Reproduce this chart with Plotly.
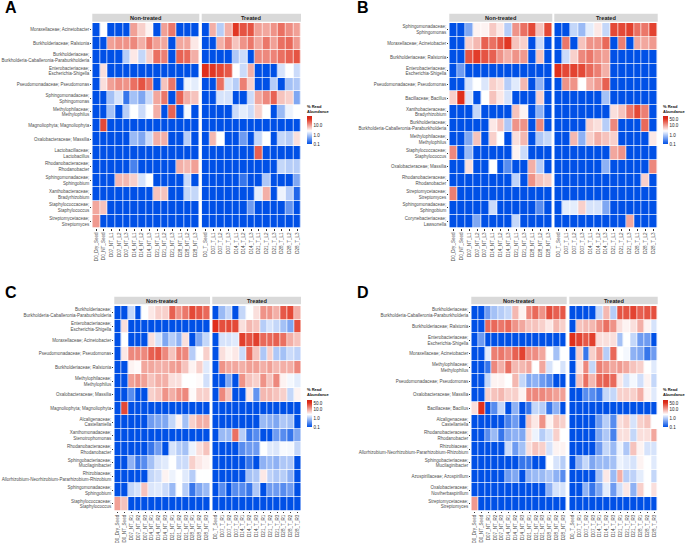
import math
import plotly.graph_objects as go

WIDTH, HEIGHT = 685, 543

nt_L = ["D0_Dry_Seed","D0_NT_Seed","D07_NT_L1","D07_NT_L2","D07_NT_L3","D14_NT_L1","D14_NT_L2","D14_NT_L3","D21_NT_L1","D21_NT_L2","D21_NT_L3","D28_NT_L1","D28_NT_L2","D28_NT_L3"]
nt_L_b = ["D0_Dry_Seed","D0_NT_Seed","D07_NT_L1","D07_NT_L2","D07_NT_L3","D14_NT_L1","D14_NT_L2","D14_NT_L3","D21_NT_L1","D21_NT_L3","D28_NT_L1","D28_NT_L2","D28_NT_L3"]
t_L = ["D0_T_Seed","D07_T_L1","D07_T_L2","D07_T_L3","D14_T_L1","D14_T_L2","D14_T_L3","D21_T_L1","D21_T_L2","D21_T_L3","D28_T_L1","D28_T_L2","D28_T_L3"]
nt_R = ["D0_Dry_Seed","D0_NT_Seed","D07_NT_R1","D07_NT_R2","D07_NT_R3","D14_NT_R1","D14_NT_R2","D14_NT_R3","D21_NT_R1","D21_NT_R2","D21_NT_R3","D28_NT_R1","D28_NT_R2","D28_NT_R3"]
t_R = ["D0_T_Seed","D07_T_R1","D07_T_R2","D07_T_R3","D14_T_R1","D14_T_R2","D14_T_R3","D21_T_R1","D21_T_R2","D21_T_R3","D28_T_R1","D28_T_R2","D28_T_R3"]

taxa_a = ["Moraxellaceae; Acinetobacter","Burkholderiaceae; Ralstonia","Burkholderiaceae;<br>Burkholderia-Caballeronia-Paraburkholderia","Enterobacteriaceae;<br>Escherichia-Shigella","Pseudomonadaceae; Pseudomonas","Sphingomonadaceae;<br>Sphingomonas","Methylophilaceae;<br>Methylophilus","Magnoliophyta; Magnoliophyta","Oxalobacteraceae; Massilia","Lactobacillaceae;<br>Lactobacillus","Rhodanobacteraceae;<br>Rhodanobacter","Sphingomonadaceae;<br>Sphingobium","Xanthobacteraceae;<br>Bradyrhizobium","Staphylococcaceae;<br>Staphylococcus","Streptomycetaceae;<br>Streptomyces"]
taxa_b = ["Sphingomonadaceae;<br>Sphingomonas","Moraxellaceae; Acinetobacter","Burkholderiaceae; Ralstonia","Enterobacteriaceae;<br>Escherichia-Shigella","Pseudomonadaceae; Pseudomonas","Bacillaceae; Bacillus","Xanthobacteraceae;<br>Bradyrhizobium","Burkholderiaceae;<br>Burkholderia-Caballeronia-Paraburkholderia","Methylophilaceae;<br>Methylophilus","Staphylococcaceae;<br>Staphylococcus","Oxalobacteraceae; Massilia","Rhodanobacteraceae;<br>Rhodanobacter","Streptomycetaceae;<br>Streptomyces","Sphingomonadaceae;<br>Sphingobium","Corynebacteriaceae;<br>Lawsonella"]
taxa_c = ["Burkholderiaceae;<br>Burkholderia-Caballeronia-Paraburkholderia","Enterobacteriaceae;<br>Escherichia-Shigella","Moraxellaceae; Acinetobacter","Pseudomonadaceae; Pseudomonas","Burkholderiaceae; Ralstonia","Methylophilaceae;<br>Methylophilus","Oxalobacteraceae; Massilia","Magnoliophyta; Magnoliophyta","Alcaligenaceae;<br>Castellaniella","Xanthomonadaceae;<br>Stenotrophomonas","Rhodanobacteraceae;<br>Rhodanobacter","Sphingobacteriaceae;<br>Mucilaginibacter","Rhizobiaceae;<br>Allorhizobium-Neorhizobium-Pararhizobium-Rhizobium","Sphingomonadaceae;<br>Sphingobium","Staphylococcaceae;<br>Staphylococcus"]
taxa_d = ["Burkholderiaceae;<br>Burkholderia-Caballeronia-Paraburkholderia","Burkholderiaceae; Ralstonia","Enterobacteriaceae;<br>Escherichia-Shigella","Moraxellaceae; Acinetobacter","Methylophilaceae;<br>Methylophilus","Pseudomonadaceae; Pseudomonas","Oxalobacteraceae; Massilia","Bacillaceae; Bacillus","Alcaligenaceae;<br>Castellaniella","Rhodanobacteraceae;<br>Rhodanobacter","Rhizobiaceae;<br>Allorhizobium-Neorhizobium-Pararhizobium-Rhizobium","Sphingobacteriaceae;<br>Mucilaginibacter","Azospirillaceae; Azospirillum","Oxalobacteraceae;<br>Noviherbaspirillum","Streptomycetaceae;<br>Streptomyces"]

a_nt = [
[.1,2.5,.1,.1,.1,10,5,3,.1,10,18,.1,.1,.1],
[.1,.1,10,12,12,14,8,18,10,9,.1,9,9,3.5],
[.1,.1,.1,.1,1,3.5,1.2,5,20,16,.1,24,22,8],
[.1,4,.1,.1,.1,.1,.1,.1,.1,.1,.1,.1,.1,.1],
[.1,4,10,13,12,20,30,18,.1,6,18,.1,2,1.8],
[.1,.1,.8,1.5,.2,.8,.5,1.3,9,18,.1,24,8,6],
[.1,.1,.8,.1,1,2.5,1.3,2.5,8,.1,24,.1,2.2,.1],
[.1,35,.1,.1,.1,.1,.1,.1,.1,.1,.1,.1,.1,.1],
[.1,.1,.1,.1,.1,.7,.5,1.3,8,8,.1,.1,1,.1],
[.1,.1,.1,.1,.1,.1,.1,.1,.1,.1,.1,.1,.1,.1],
[.1,.1,.1,.1,.1,.25,.1,.1,.1,.1,.1,8,7,10],
[.1,.1,.1,7,7,5,1.5,2.5,.1,.1,.1,.1,1.3,.1],
[.1,.1,.1,.1,.1,.1,.1,.1,6,6,.1,.1,1.2,1.2],
[9,6,.1,.1,.1,.1,.1,.1,.1,.1,.1,.1,.1,.1],
[11,.1,.1,.1,.1,.1,.1,.1,.1,.1,.1,.1,.1,.1],
]
a_t = [
[.1,8,1,8,45,30,30,10,9,12,20,13,10],
[.1,.1,8,15,6,12,18,9,18,10,20,22,11],
[.1,.1,.1,.1,.9,1.3,.1,14,14,15,20,24,30],
[50,45,35,28,2.5,1.3,8,.1,.1,.1,1.5,2.5,1.3],
[.1,.1,20,1.5,1,16,5,.1,.1,1,.1,.8,.9],
[.1,.1,1.5,1.5,.1,.1,1.3,9,14,24,6,5,.5],
[.1,.1,.1,.1,1.3,1.8,1.3,5,2.5,.1,.7,2,2.5],
[.1,.1,.1,.1,.1,.1,.1,.1,.1,.1,.1,.1,.1],
[.1,7,2.5,.1,.1,.4,.1,1.2,2.5,.1,1.2,1,4],
[.1,.1,.1,.1,.1,.1,.1,25,.1,.1,.1,.1,.1],
[.1,.1,.1,.1,.1,.1,.1,.1,.1,.1,1.2,1,1],
[.1,.1,.1,.1,.1,.2,.1,.1,.9,.1,.1,.1,.5],
[.1,.1,.1,.1,.1,.1,.1,1.8,8,.1,2,1,.15],
[.1,.1,.1,.1,.1,.1,.4,.1,.1,.1,.1,.35,.1],
[.1,.1,.1,.1,.1,.1,.1,.1,.1,.1,.1,.1,.1],
]
b_nt = [
[.1,.1,.5,3,3,5.5,3.5,1,12,20,35,6,35],
[.1,.1,5,7,25,20,30,45,6,5,.1,1.3,.1],
[.1,.1,30,42,30,25,12,8,12,11,.1,6,.1],
[.1,.4,.1,.1,.1,.1,.1,.1,.1,.1,.1,.1,.1],
[.1,.1,1.5,2.5,1.6,5,4,1,1.7,7,.1,.6,.1],
[5,50,1.6,.1,2.5,6,3.5,1.5,.1,.1,.1,5,.1],
[.1,.1,.1,1.2,.1,.1,.1,.1,6,3,.1,.6,.1],
[.1,.1,.1,.1,.1,3.5,6,.9,12,12,.1,14,.1],
[.1,.1,.5,6,.1,5,2.5,.1,4,7,.1,.9,1.2],
[14,.1,.7,.1,.1,.1,.1,.1,3,1.3,.1,.1,.1],
[.1,.1,4,.1,.1,2.5,.1,.3,.1,.1,8,1,.1],
[.1,.1,.1,.1,.1,.1,.1,.1,1.1,.1,12,6,5],
[16,.1,.1,.1,.1,.1,.1,.1,.1,.1,.1,.1,.1],
[.1,.1,.1,.1,.1,1.3,.1,.1,.1,.1,.1,.3,.1],
[.1,.1,.1,.5,.1,.1,.1,.1,1.2,.1,.1,.1,.1],
]
b_t = [
[.1,.1,1.2,.7,1.8,3.5,1.2,35,35,40,20,18,38],
[.1,18,.1,6,12,12,22,.1,16,.1,9,9,11],
[.1,1.3,5,14,18,12,10,.1,.1,.1,.1,.1,.1],
[50,35,38,35,22,16,8,.1,.1,.1,.1,.1,.1],
[.1,12,12,2.5,8,11,25,.1,.1,.1,.1,.1,.1],
[.1,.1,.1,.1,.1,.1,.8,.1,.1,.1,.1,.1,.1],
[.1,.1,.1,.1,.1,.1,.1,4,6,18,35,16,.1],
[.1,.1,.1,.1,5,4,1,14,.1,.1,.1,22,.1],
[.1,.1,7,.6,5,8,6,5,.1,.1,.1,.1,3.5],
[.1,.1,.1,.1,.1,.1,.1,9,12,.1,.1,.1,.1],
[.1,.1,.1,.1,.1,.1,.6,.1,.1,.1,.1,.1,14],
[.1,.1,.1,.1,.1,.1,.1,.1,.1,.1,.1,5,.1],
[.1,.1,.1,.1,.1,.1,.1,.1,.1,.1,.1,.1,.1],
[.1,1.8,1.8,5,1.5,1.5,.5,.1,.1,.1,.1,.1,.1],
[.1,.1,.1,.1,.1,.1,.1,.1,.1,9,.1,.1,.1],
]
c_nt = [
[.1,.1,1.2,.1,2.5,3.5,5,5,25,12,18,35,28,22],
[.1,4,.1,.1,.1,.1,.1,.1,.1,.1,.1,.1,.1,.1],
[.1,2.5,.1,.1,.1,4,1.5,.5,1,.6,4,.1,.5,1.2],
[.1,3.5,14,14,14,25,28,14,6,16,14,1,2.5,5],
[.1,.1,3,2.7,9,9,8,8,10,11,6,3,5,1.7],
[.1,.1,10,12,10,6,8,8,4,4,2.5,2.5,2.7,1.4],
[.1,.1,.3,.1,.1,5,6,12,8,12,14,2.7,5,5],
[.1,35,.1,.1,.1,.1,.1,.1,.1,.1,.1,.1,.1,.1],
[.1,.1,.1,.1,.1,.4,.5,.5,1.2,3,.8,5,8,8],
[.1,.1,.1,.1,.1,.1,.1,.1,.1,.1,.1,.1,.1,.1],
[.1,.1,.1,.1,.1,.2,.4,.1,1.5,1,.8,2,4,6],
[.1,.1,.6,.2,.3,.8,1.5,1.7,2.5,1.3,1.3,5,3.5,3],
[.1,.1,.1,.1,.1,1.2,1.4,3,2,2.5,1.7,1,2.5,2.5],
[.1,.1,1.2,1.5,6,1.6,1.7,1.3,.7,2.5,1,.2,.5,.7],
[10,6,.1,.1,.1,.1,.1,.1,.1,.1,.1,.1,.1,.1],
]
c_t = [
[.1,.7,1.2,.1,1.2,2.5,4,12,12,8,28,35,8],
[50,32,35,35,4,7,6,1,1.5,1.2,.8,.5,32],
[.1,1.5,1.5,1.7,40,30,40,22,22,25,20,8,6],
[.1,4,3,3.5,1.3,22,6,.9,5,.9,.8,1.3,1.1],
[.1,12,9,9,8,10,10,8,10,7,8,8,14],
[.1,.1,.5,.1,12,6,5,12,6,14,3,2.2,1.8],
[.1,14,6,.1,.1,3.5,.35,7,7,6,5,1.2,3],
[.1,.1,.1,.1,.1,.1,.1,.1,.1,.1,.1,.1,.1],
[.1,.1,.1,.1,.1,.1,.1,.7,.6,.5,.9,.8,.1],
[.1,.7,.7,20,1,.2,.3,.1,.1,.4,.3,.2,.5],
[.1,.1,.1,.1,.3,.4,.4,2.5,1.7,1.6,2.3,2.2,1.2],
[.1,.1,.1,.1,.1,.2,.1,.6,.7,.6,.9,.9,.1],
[.1,.1,.1,.1,.1,.8,.9,3.5,1.1,.9,1,.6,.1],
[.1,.3,.1,.3,.3,.2,.9,.1,.4,.4,.3,.4,.1],
[.1,.1,.1,.1,.1,.1,.1,.1,.1,.1,.1,.1,.1],
]
d_nt = [
[.1,.1,.4,.8,1,1.2,7,3,14,22,12,33,25,28],
[.1,.1,22,22,18,22,12,9,6,6,5,3.5,7,5],
[.1,.4,.1,.1,.1,.1,.1,.1,.1,.1,.1,.1,.1,.1],
[.1,.1,1.8,16,18,14,25,38,13,13,9,2.5,.8,2.5],
[.1,.1,.2,14,8,20,7,7,9,2.5,9,1.5,2.5,1.5],
[.1,.1,1.2,3,3,2.5,7,1.2,.5,.6,.4,.3,.1,.1],
[.1,.1,5,6,7,5,5,3,14,14,14,12,10,10],
[4,50,.1,.3,1.2,.1,.6,.1,.2,1.2,1,.2,.6,.1],
[.1,.1,.1,.1,.1,.25,.4,.1,6,3.5,12,3,6,5],
[.1,.1,.3,.7,.2,.5,.6,.5,4,2,1,1.5,5,2.5],
[.1,.1,.1,.1,.1,1.3,.4,.8,4,6,5,1.5,3,3],
[.1,.1,.1,.1,.1,.1,.1,.2,.2,.1,.1,2.5,1.5,1],
[.1,.1,.1,.1,.1,.4,.5,.1,.6,.7,.7,.9,.6,.3],
[.1,.1,.1,.1,.1,.1,.1,.1,.1,.1,.1,.6,1.5,1.5],
[11,.1,.1,.1,.1,.1,.1,.1,.1,.1,.1,.1,.1,.1],
]
d_t = [
[.1,.1,.1,.1,1.2,7,1,30,30,38,25,30,32],
[.1,6,7,7,12,20,12,4,3,4,8,3,1.5],
[50,38,28,40,4,4,4,.8,2.5,1.2,.4,.4,.1],
[.1,5,.2,5,11,1,22,2.5,2.2,.6,.5,.2,.4],
[.1,3.5,14,1.2,16,12,9,11,9,6,5,2.5,1.7],
[.1,6,20,7,22,25,22,3.5,1.5,2.2,1.4,3,1.2],
[.1,.1,.3,.3,.2,1.2,1.2,5,5,5,8,3,1.7],
[.1,.1,.1,.1,.1,.1,.1,.1,.1,.1,.1,.1,.1],
[.1,.1,.1,.1,.4,1,.3,4,5,1.5,5,6,2.5],
[.1,.1,.1,.1,.5,.9,.25,4,4,1.2,4,4,9],
[.1,.1,.1,.1,.4,1.2,.7,2,.9,6,3,1.5,1.5],
[.1,.6,1.2,.5,.7,.7,.8,2,1.7,1.5,3,2.5,1.7],
[.1,.1,.1,.1,.8,3.5,.7,8,1,1.1,1.8,2.5,1.2],
[.1,.1,.6,.2,.5,1.8,.4,1.4,3.5,.6,5,2.5,4],
[.1,.1,.1,.1,.1,.1,.1,.1,.1,.1,.1,.1,.1],
]

strip_labels = ["Non-treated", "Treated"]
legend_ticks = [[0.1, 1.0, 10.0], [0.1, 1.0, 10.0, 50.0], [0.1, 1.0, 10.0, 50.0], [0.1, 1.0, 10.0, 50.0]]

panels = [
 ("A", 10.5, 8, taxa_a, nt_L, t_L, a_nt, a_t, (92.3, 199.3), (201.7, 301), (13.7, 21.7), (23, 228.3), 306.7, (116.7, 144.3)),
 ("B", 363, 8, taxa_b, nt_L_b, t_L, b_nt, b_t, (449.3, 552.3), (554.3, 657.7), (13.7, 21.7), (23, 228.3), 663.3, (116.7, 144.3)),
 ("C", 10.5, 292.5, taxa_c, nt_R, t_R, c_nt, c_t, (114.3, 210), (212.3, 301), (296.7, 304.3), (306, 510.7), 306.7, (400, 427.3)),
 ("D", 363, 292.5, taxa_d, nt_R, t_R, d_nt, d_t, (471.3, 566.7), (569.3, 657.7), (296.7, 304.3), (306, 510.7), 663.3, (400, 427.3)),
]

colorscale = [[0, "#0050E6"], [0.467, "#FFFFFF"], [0.9, "#E0301C"], [1, "#D02418"]]
FONT = "Liberation Sans"

fig = go.Figure()
layout = dict(
    width=WIDTH, height=HEIGHT, margin=dict(l=0, r=0, t=0, b=0), autosize=False,
    paper_bgcolor="white", plot_bgcolor="white", font=dict(family=FONT, color="#4D4D4D"),
)
shapes, annots = [], []
ax = 1

def fy(y):
    return 1 - y / HEIGHT

for i, (letter, lx, ly, rows, xn, xt, zn, zt, pn, pt, strip, heat, leg_x, leg_y) in enumerate(panels):
    cname = "coloraxis" if i == 0 else f"coloraxis{i+1}"
    ticks = legend_ticks[i]
    layout[cname] = dict(
        cmin=-1, cmax=2, colorscale=colorscale,
        colorbar=dict(
            x=leg_x / WIDTH, xanchor="left", xpad=0, ypad=0,
            y=fy(leg_y[1]), yanchor="bottom", lenmode="pixels", len=leg_y[1] - leg_y[0],
            thickness=5.4, thicknessmode="pixels", outlinewidth=0,
            tickvals=[math.log10(t) for t in ticks], ticktext=[f"{t:.1f}" for t in ticks],
            ticks="", tickfont=dict(size=4.5, color="#222222", family=FONT),
        ),
    )
    annots.append(dict(xref="paper", yref="paper", x=(leg_x - 1) / WIDTH, y=fy(leg_y[0] - 2), text="<b>% Read<br>Abundance</b>",
                       showarrow=False, xanchor="left", yanchor="bottom", align="left", borderpad=0,
                       font=dict(size=4.0, color="#111111", family=FONT)))
    for j, (xs, zz, px, lab) in enumerate([(xn, zn, pn, strip_labels[0]), (xt, zt, pt, strip_labels[1])]):
        xa, ya = ("x", "y") if ax == 1 else (f"x{ax}", f"y{ax}")
        xk, yk = ("xaxis", "yaxis") if ax == 1 else (f"xaxis{ax}", f"yaxis{ax}")
        fig.add_trace(go.Heatmap(
            x=xs, y=rows, z=[[math.log10(v) for v in r] for r in zz],
            coloraxis=cname, xgap=0.7, ygap=0.7, xaxis=xa, yaxis=ya, hoverinfo="skip",
        ))
        layout[xk] = dict(
            domain=[px[0] / WIDTH, px[1] / WIDTH], anchor=ya, type="category",
            tickangle=-90, tickfont=dict(size=4.6, color="#4D4D4D", family=FONT),
            ticks="outside", ticklen=1.2, tickwidth=0.4, tickcolor="#333333",
            showgrid=False, zeroline=False, showline=False, automargin=False,
            tickmode="array", tickvals=xs, ticktext=xs,
        )
        layout[yk] = dict(
            domain=[fy(heat[1]), fy(heat[0])], anchor=xa, type="category", autorange="reversed",
            showticklabels=(j == 0), tickfont=dict(size=4.5, color="#4D4D4D", family=FONT),
            ticks="outside" if j == 0 else "", ticklen=1.2, tickwidth=0.4, tickcolor="#333333",
            showgrid=False, zeroline=False, showline=False, automargin=False,
            tickmode="array", tickvals=rows, ticktext=rows,
        )
        shapes.append(dict(type="rect", xref="paper", yref="paper",
                           x0=px[0] / WIDTH, x1=px[1] / WIDTH, y0=fy(strip[1]), y1=fy(strip[0]),
                           fillcolor="#D9D9D9", line=dict(width=0), layer="below"))
        annots.append(dict(xref="paper", yref="paper", x=(px[0] + px[1]) / 2 / WIDTH, y=fy((strip[0] + strip[1]) / 2),
                           text=f"<b>{lab}</b>", showarrow=False, xanchor="center", yanchor="middle",
                           font=dict(size=5.6, color="#1A1A1A", family=FONT)))
        ax += 1
    annots.append(dict(xref="paper", yref="paper", x=lx / WIDTH, y=fy(ly), text=f"<b>{letter}</b>", showarrow=False,
                       xanchor="center", yanchor="middle", font=dict(size=16, color="#000000", family=FONT)))

layout["shapes"] = shapes
layout["annotations"] = annots
fig.update_layout(**layout)
fig.write_html("out.html", config={"displayModeBar": False},
               post_script="document.body.style.margin='0';document.documentElement.style.overflow='hidden';")
